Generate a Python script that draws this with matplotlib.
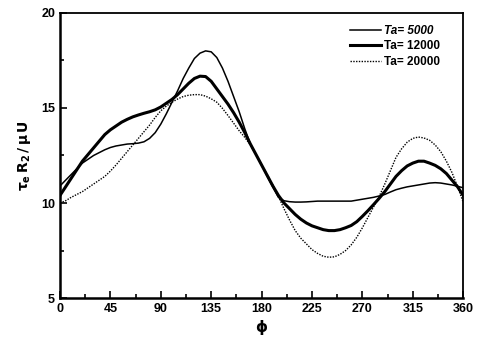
import matplotlib
matplotlib.use('Agg')
import matplotlib.pyplot as plt
import numpy as np
from matplotlib.ticker import MultipleLocator

plt.rcParams['font.family'] = ['Liberation Sans', 'DejaVu Sans']
plt.rcParams['font.weight'] = 'bold'

phi = list(range(0, 361, 5))

# Ta = 5000 (thin solid)
tau_5000 = [10.9, 11.2, 11.5, 11.8, 12.1, 12.3, 12.5, 12.65, 12.8, 12.92,
            13.0, 13.05, 13.1, 13.12, 13.15, 13.22, 13.4, 13.7, 14.15, 14.7,
            15.3, 15.9, 16.55, 17.1, 17.6, 17.88, 18.0, 17.95, 17.65, 17.1,
            16.4, 15.6, 14.8, 13.9, 13.1, 12.55, 12.0, 11.4, 10.85, 10.3,
            10.12, 10.07, 10.05, 10.05, 10.06, 10.08, 10.1, 10.1, 10.1, 10.1,
            10.1, 10.1, 10.1, 10.15, 10.2, 10.25, 10.3, 10.37, 10.45, 10.58,
            10.7, 10.78, 10.85, 10.9, 10.95, 11.0, 11.05, 11.07, 11.05, 11.0,
            10.95, 10.88, 10.8]
# Ta = 12000 (thick solid)
tau_12000 = [10.4, 10.85, 11.3, 11.75, 12.2, 12.55, 12.9, 13.25, 13.6, 13.85,
             14.05, 14.25, 14.4, 14.53, 14.63, 14.72, 14.8, 14.9, 15.05, 15.25,
             15.45, 15.7, 16.0, 16.3, 16.55, 16.67, 16.65, 16.4, 16.0, 15.6,
             15.2, 14.75, 14.25, 13.7, 13.1, 12.55, 12.0, 11.45, 10.9, 10.4,
             10.0, 9.7, 9.4, 9.15, 8.95, 8.8, 8.7, 8.6, 8.55, 8.55,
             8.6, 8.7, 8.82, 9.02, 9.3, 9.6, 9.92, 10.25, 10.6, 11.0,
             11.4, 11.7, 11.95, 12.1, 12.2, 12.2, 12.1, 11.98, 11.8, 11.55,
             11.2, 10.85, 10.4]
# Ta = 20000 (dotted)
tau_20000 = [10.0, 10.12, 10.3, 10.45, 10.6, 10.8, 11.0, 11.2, 11.4, 11.68,
             12.0, 12.35, 12.7, 13.05, 13.4, 13.75, 14.1, 14.5, 14.85, 15.1,
             15.3, 15.47, 15.6, 15.67, 15.7, 15.7, 15.62, 15.48, 15.3, 14.98,
             14.6, 14.2, 13.8, 13.45, 13.05, 12.55, 12.0, 11.5, 10.95, 10.35,
             9.7, 9.1, 8.55, 8.15, 7.85, 7.55, 7.35, 7.2, 7.15, 7.17,
             7.3, 7.5, 7.8, 8.2, 8.7, 9.25, 9.8, 10.35, 11.0, 11.7,
             12.4, 12.85, 13.2, 13.4, 13.47, 13.42, 13.3, 13.05, 12.7, 12.2,
             11.6, 10.85, 10.05]

fig = plt.figure(figsize=(4.8, 3.38), dpi=100)
ax = fig.add_axes([0.125, 0.118, 0.84, 0.844])

ax.plot(phi, tau_5000, color='black', lw=1.1, label='Ta= 5000')
ax.plot(phi, tau_12000, color='black', lw=2.2, label='Ta= 12000')
ax.plot(phi, tau_20000, color='black', lw=1.0, ls=(0, (1, 1)), label='Ta= 20000')

ax.set_xlim(0, 360)
ax.set_ylim(5, 20)
ax.xaxis.set_major_locator(MultipleLocator(45))
ax.xaxis.set_minor_locator(MultipleLocator(22.5))
ax.yaxis.set_major_locator(MultipleLocator(5))
ax.yaxis.set_minor_locator(MultipleLocator(2.5))
ax.tick_params(which='both', direction='in', labelsize=9, width=1.2)
ax.tick_params(which='major', length=5)
ax.tick_params(which='minor', length=3)
for lab in ax.get_xticklabels() + ax.get_yticklabels():
    lab.set_fontweight('bold')
for s in ['left', 'bottom']:
    ax.spines[s].set_linewidth(1.8)
for s in ['top', 'right']:
    ax.spines[s].set_linewidth(1.3)

ax.set_xlabel(r'$\mathbf{\phi}$', fontsize=11, labelpad=2)
ax.set_ylabel(r'$\mathbf{\tau_e\,R_2\,/\,\mu\,U}$', fontsize=10, labelpad=6)

leg = ax.legend(loc='upper right', frameon=False, fontsize=8.5, handlelength=2.6,
                handletextpad=0.3, labelspacing=0.3, bbox_to_anchor=(0.97, 0.995))
for t in leg.get_texts():
    t.set_fontweight('bold')
leg.get_texts()[0].set_fontstyle('italic')

fig.savefig('out.png', dpi=100)
